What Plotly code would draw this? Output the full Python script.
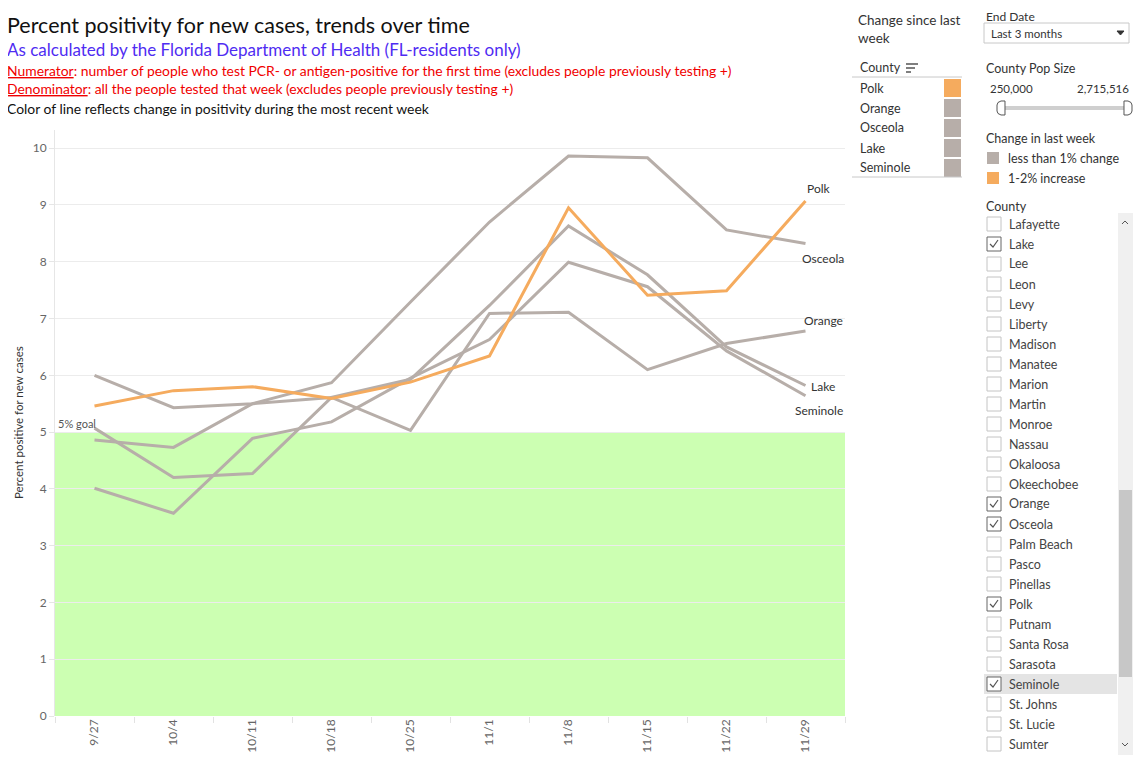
import plotly.graph_objects as go

# ---------------- data ----------------
weeks = ["9/27", "10/4", "10/11", "10/18", "10/25", "11/1", "11/8", "11/15", "11/22", "11/29"]
polk = [5.46, 5.73, 5.80, 5.59, 5.88, 6.34, 8.95, 7.41, 7.49, 9.07]
orange = [6.00, 5.43, 5.50, 5.61, 5.03, 7.09, 7.11, 6.10, 6.56, 6.78]
osceola = [4.86, 4.73, 5.50, 5.87, 7.29, 8.70, 9.86, 9.83, 8.56, 8.32]
lake = [5.07, 4.20, 4.27, 5.61, 5.93, 7.23, 8.63, 7.77, 6.50, 5.82]
seminole = [4.01, 3.57, 4.89, 5.18, 5.95, 6.63, 7.99, 7.56, 6.43, 5.64]

series_names = ["Polk", "Orange", "Osceola", "Lake", "Seminole"]
series_vals = [polk, orange, osceola, lake, seminole]
series_change = ["1-2% increase", "less than 1% change", "less than 1% change",
                 "less than 1% change", "less than 1% change"]
goal_value = 5
y_ticks = list(range(0, 11))

change_categories = ["less than 1% change", "1-2% increase"]
change_colors = {"less than 1% change": "#b7aea9", "1-2% increase": "#f5ab5e"}

county_list = ["Lafayette", "Lake", "Lee", "Leon", "Levy", "Liberty", "Madison", "Manatee",
               "Marion", "Martin", "Monroe", "Nassau", "Okaloosa", "Okeechobee", "Orange",
               "Osceola", "Palm Beach", "Pasco", "Pinellas", "Polk", "Putnam", "Santa Rosa",
               "Sarasota", "Seminole", "St. Johns", "St. Lucie", "Sumter"]
selected_counties = ["Lake", "Orange", "Osceola", "Polk", "Seminole"]
highlighted_county = "Seminole"
pop_min_label = "250,000"
pop_max_label = "2,715,516"
end_date_label = "Last 3 months"

# label offsets for end-of-line names (px)
label_shift = {"Polk": (13, 12), "Osceola": (17, -15), "Orange": (18, 11),
               "Lake": (17, -1), "Seminole": (13, -15)}

# ---------------- layout helpers ----------------
OFF = 8                      # page body margin
WIN_W, WIN_H = 1147, 764
W, H = WIN_W - OFF, WIN_H - OFF
PL, PR, PT, PB = 55, 845, 130, 716   # plot area in window pixels
FONT = "Lato"


def px(x):
    return (x - PL) / (PR - PL)


def py(y):
    return (PB - y) / (PB - PT)


fig = go.Figure()

x_idx = list(range(len(weeks)))
order = [1, 2, 3, 4, 0]  # grey first, Polk on top
for i in order:
    fig.add_trace(go.Scatter(
        x=x_idx, y=series_vals[i], mode="lines", name=series_names[i],
        line=dict(color=change_colors[series_change[i]], width=3),
        hovertemplate="%{y:.2f}<extra>" + series_names[i] + "</extra>",
        showlegend=False))

annotations = []
shapes = []

# goal band
shapes.append(dict(type="rect", xref="paper", yref="y", x0=0, x1=1, y0=0, y1=goal_value,
                   fillcolor="#ccffb2", line=dict(width=0), layer="below"))

annotations.append(dict(x=-0.5, y=goal_value, xref="x", yref="y", text="5% goal",
                        showarrow=False, xanchor="left", yanchor="bottom", xshift=1, yshift=0,
                        font=dict(family=FONT, size=11, color="#555")))

for name, vals in zip(series_names, series_vals):
    dx, dy = label_shift[name]
    annotations.append(dict(x=len(weeks) - 1, y=vals[-1], xref="x", yref="y", text=name,
                            showarrow=False, xshift=dx, yshift=dy,
                            font=dict(family=FONT, size=12, color="#333")))


def text(x, y, s, size=13, color="#333", anchor="left", family=FONT):
    annotations.append(dict(x=px(x), y=py(y), xref="paper", yref="paper", text=s,
                            showarrow=False, xanchor=anchor, yanchor="middle",
                            font=dict(family=family, size=size, color=color)))


def rect(x0, y0, x1, y1, fill, line_color=None, lw=1):
    shapes.append(dict(type="rect", xref="paper", yref="paper",
                       x0=px(x0), x1=px(x1), y0=py(y0), y1=py(y1),
                       fillcolor=fill,
                       line=dict(width=lw if line_color else 0, color=line_color or fill)))


def hline(x0, x1, y, color, lw=1):
    shapes.append(dict(type="line", xref="paper", yref="paper",
                       x0=px(x0), x1=px(x1), y0=py(y), y1=py(y),
                       line=dict(color=color, width=lw)))


def path(pts, color, lw=1, fill=None, close=False):
    d = "M " + " L ".join(f"{px(a):.5f},{py(b):.5f}" for a, b in pts)
    if close:
        d += " Z"
    shapes.append(dict(type="path", xref="paper", yref="paper", path=d,
                       line=dict(color=color, width=lw),
                       fillcolor=fill if fill else "rgba(0,0,0,0)"))


# titles
text(5, 25, "Percent positivity for new cases, trends over time", size=21.5, color="#111")
text(5, 50, "As calculated by the Florida Department of Health (FL-residents only)", size=17,
     color="#4f2cf2")
text(5, 71, "<u>Numerator</u>: number of people who test PCR- or antigen-positive for the first time "
     "(excludes people previously testing +)", size=13.9, color="#f00000")
text(5, 89, "<u>Denominator</u>: all the people tested that week (excludes people previously testing +)",
     size=13.9, color="#f00000")
text(5, 108, "Color of line reflects change in positivity during the most recent week", size=13.9,
     color="#111")

annotations.append(dict(x=px(18), y=py(423), xref="paper", yref="paper", xanchor="center",
                        yanchor="middle", text="Percent positive for new cases", textangle=-90,
                        showarrow=False, font=dict(family=FONT, size=11.5, color="#333")))

# ---- change since last week table ----
text(856, 20, "Change since last", size=13.5)
text(856, 38, "week", size=13.5)
text(858, 68, "County", size=12.5)
for k, wdt in enumerate([12, 9, 5]):
    hline(906, 906 + wdt, 64 + k * 4, "#555", 1.5)
hline(852, 962, 77, "#c8c8c8")
for i, name in enumerate(series_names):
    yc = 88 + i * 20
    text(858, yc, name, size=12.5)
    rect(944, yc - 9, 961, yc + 9, change_colors[series_change[i]])
hline(852, 962, 177, "#c8c8c8")

# ---- End date ----
text(984, 16.5, "End Date", size=12)
rect(984, 23, 1129, 43, "#ffffff", "#c8c8c8")
text(989, 33, end_date_label, size=11.5)
path([(1117, 31), (1124, 31), (1120.5, 35)], "#333", 1, fill="#333", close=True)

# ---- County pop size ----
text(984, 69, "County Pop Size", size=12.5)
text(988, 89, pop_min_label, size=11.5)
text(1131, 89, pop_max_label, size=11.5, anchor="right")
hline(1001, 1127, 108, "#cfcfcf", 4)
path([(1005, 101), (1001, 101), (998, 102.5), (997, 105), (997, 111), (998, 113.5), (1001, 115),
      (1005, 115)], "#555", 1, fill="#ffffff", close=True)
path([(1124, 101), (1128, 101), (1131, 102.5), (1132, 105), (1132, 111), (1131, 113.5),
      (1128, 115), (1124, 115)], "#555", 1, fill="#ffffff", close=True)

# ---- change legend ----
text(984, 138, "Change in last week", size=12.5)
for i, cat in enumerate(change_categories):
    yc = 158 + i * 20
    rect(987, yc - 6, 999, yc + 6, change_colors[cat])
    text(1006, yc, cat, size=12.5)

# ---- County filter list ----
text(984, 206, "County", size=12.5)
rect(1118, 213, 1133, 755, "#f0f0f0")
rect(1119, 490, 1132, 677, "#c7c7c7")
path([(1122, 224), (1125, 221), (1128, 224)], "#555", 1)
path([(1122, 743), (1125, 746), (1128, 743)], "#555", 1)
for i, c in enumerate(county_list):
    yc = 224 + i * 20
    if c == highlighted_county:
        rect(984, yc - 10, 1117, yc + 10, "#e4e4e4")
    checked = c in selected_counties
    rect(987, yc - 7, 1001, yc + 7, "#ffffff", "#666" if checked else "#c4c4c4")
    if checked:
        path([(990, yc), (993, yc + 3), (998, yc - 4)], "#555", 1.2)
    text(1007, yc, c, size=12.5, color="#444")

fig.update_layout(
    width=W, height=H,
    margin=dict(l=PL - OFF, r=WIN_W - PR, t=PT - OFF, b=WIN_H - PB, pad=0),
    paper_bgcolor="#ffffff", plot_bgcolor="#ffffff",
    font=dict(family=FONT, color="#555"),
    shapes=shapes, annotations=annotations,
    xaxis=dict(range=[-0.5, len(weeks) - 0.5], tickmode="array", tickvals=x_idx, ticktext=weeks,
               tickangle=-90, showgrid=False, zeroline=False, showline=False, ticks="",
               tickfont=dict(family=FONT, size=12, color="#666"),
               minor=dict(tickmode="array", tickvals=[i - 0.5 for i in range(len(weeks) + 1)],
                          ticks="outside", ticklen=6, tickcolor="#e2e2e2", showgrid=False),
               fixedrange=True),
    yaxis=dict(range=[0, 10.32], tickmode="array", tickvals=y_ticks, showgrid=True,
               gridcolor="#ececec", gridwidth=1, zeroline=False, showline=True,
               linecolor="#e6e6e6", ticks="outside", ticklen=5, tickcolor="#e6e6e6",
               tickfont=dict(family=FONT, size=12, color="#666"), fixedrange=True),
)

fig.write_html("out.html")
